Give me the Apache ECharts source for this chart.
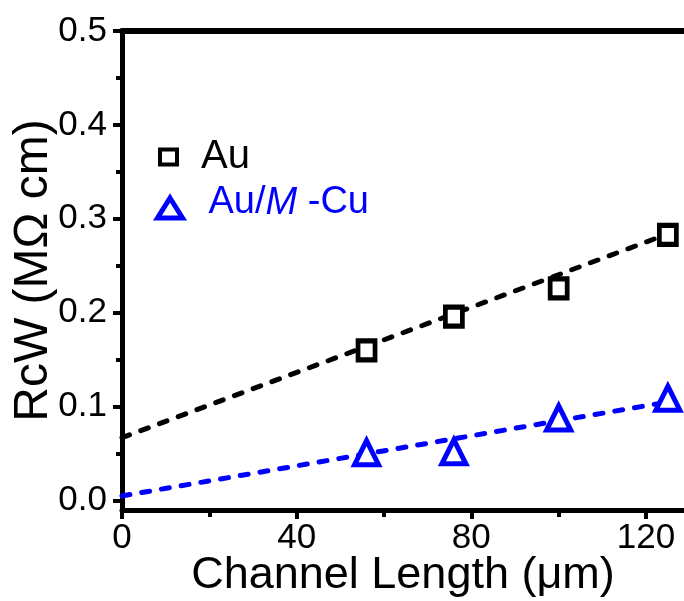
<!DOCTYPE html>
<html>
<head>
<meta charset="utf-8">
<script src="https://cdn.jsdelivr.net/npm/echarts@6/dist/echarts.min.js"></script>
<style>
html, body { margin: 0; padding: 0; background: #fff; }
#chart { width: 684px; height: 601px; }
</style>
</head>
<body>
<div id="chart"></div>
<script>
// channel length (um) and RcW (MOhm cm)
var auPoints = [[56, 0.160], [76, 0.196], [100, 0.226], [125, 0.283]];
var cuPoints = [[56, 0.051], [76, 0.052], [100, 0.088], [125, 0.109]];
// dashed fit lines, end points
var auFit = [[0, 0.067], [125, 0.284]];
var cuFit = [[0, 0.005], [125, 0.105]];

var xMajor = [0, 40, 80, 120];
var xMinor = [20, 60, 100];
var yMajor = [0, 0.1, 0.2, 0.3, 0.4, 0.5];
var yMinor = [0.05, 0.15, 0.25, 0.35, 0.45];

var SANS = '"Liberation Sans", Arial, sans-serif';
var BLUE = '#0000ff';

var myChart = echarts.init(document.getElementById('chart'));

var xRange = { min: 0, max: 128.7 };
var yRange = { min: -0.01, max: 0.5 };

option = {
  animation: false,
  backgroundColor: '#fff',
  grid: { left: 122, right: 0, top: 31, bottom: 91, containLabel: false, outerBoundsMode: 'none' },
  legend: [
    {
      orient: 'vertical', left: 158, top: 112, padding: 0,
      itemWidth: 17, itemHeight: 15,
      data: [{ name: 'Au', icon: 'rect',
        itemStyle: { color: '#fff', borderColor: '#000', borderWidth: 4, opacity: 1 } }],
      textStyle: { fontFamily: SANS, fontSize: 40, color: '#000', lineHeight: 50, padding: [0, 0, 40, 19] }
    },
    {
      orient: 'vertical', left: 155, top: 178, padding: 0,
      itemWidth: 25, itemHeight: 20,
      data: [{ name: 'Au/M -Cu', icon: 'triangle',
        itemStyle: { color: '#fff', borderColor: BLUE, borderWidth: 5, opacity: 1 } }],
      formatter: function () { return '{n|Au/}{i|M}{n| -Cu}'; },
      textStyle: {
        color: BLUE, lineHeight: 50, padding: [0, 0, 10, 21],
        rich: {
          n: { fontFamily: SANS, fontSize: 38, color: BLUE, lineHeight: 50 },
          i: { fontFamily: SANS, fontSize: 38, color: BLUE, fontStyle: 'italic', lineHeight: 50 }
        }
      }
    }
  ],
  xAxis: [
    {
      type: 'value', min: xRange.min, max: xRange.max, position: 'bottom',
      name: 'Channel Length (\u03bcm)', nameLocation: 'middle', nameGap: 43, nameMoveOverlap: false,
      nameTextStyle: { fontFamily: SANS, fontSize: 45, color: '#000' },
      axisLine: { show: true, onZero: false, lineStyle: { color: '#000', width: 5 } },
      axisTick: { show: true, inside: false, length: 9, customValues: xMajor, lineStyle: { color: '#000', width: 4 } },
      axisLabel: { show: true, customValues: xMajor, margin: 11, fontFamily: SANS, fontSize: 35, color: '#000' },
      splitLine: { show: false }
    },
    {
      type: 'value', min: xRange.min, max: xRange.max, position: 'bottom',
      axisLine: { show: false, onZero: false },
      axisTick: { show: true, length: 7, customValues: xMinor, lineStyle: { color: '#000', width: 4 } },
      axisLabel: { show: false },
      splitLine: { show: false }
    },
    {
      type: 'value', min: xRange.min, max: xRange.max, position: 'top',
      axisLine: { show: true, onZero: false, lineStyle: { color: '#000', width: 6 } },
      axisTick: { show: false }, axisLabel: { show: false }, splitLine: { show: false }
    }
  ],
  yAxis: [
    {
      type: 'value', min: yRange.min, max: yRange.max, position: 'left',
      name: 'RcW (M\u03a9 cm)', nameLocation: 'middle', nameGap: 64, nameMoveOverlap: false,
      nameTextStyle: { fontFamily: SANS, fontSize: 48, color: '#000' },
      axisLine: { show: true, onZero: false, lineStyle: { color: '#000', width: 5 } },
      axisTick: { show: true, length: 9, customValues: yMajor, lineStyle: { color: '#000', width: 4 } },
      axisLabel: { show: true, customValues: yMajor, margin: 15, fontFamily: SANS, fontSize: 35, color: '#000',
        formatter: function (v) { return v.toFixed(1); } },
      splitLine: { show: false }
    },
    {
      type: 'value', min: yRange.min, max: yRange.max, position: 'left',
      axisLine: { show: false, onZero: false },
      axisTick: { show: true, length: 6, customValues: yMinor, lineStyle: { color: '#000', width: 4 } },
      axisLabel: { show: false },
      splitLine: { show: false }
    }
  ],
  series: [
    {
      name: 'Au fit', type: 'line', data: auFit, symbol: 'none', z: 1,
      lineStyle: { color: '#000', width: 5, type: [8, 12], cap: 'round' }
    },
    {
      name: 'Au/M -Cu fit', type: 'line', data: cuFit, symbol: 'none', z: 1,
      lineStyle: { color: BLUE, width: 5, type: [8, 12], cap: 'round' }
    },
    {
      name: 'Au', type: 'scatter', data: auPoints, symbol: 'rect', symbolSize: [17, 19], z: 3,
      itemStyle: { color: '#fff', borderColor: '#000', borderWidth: 5, opacity: 1 }
    },
    {
      name: 'Au/M -Cu', type: 'scatter', data: cuPoints, symbol: 'triangle', symbolSize: [24, 24], z: 3,
      itemStyle: { color: '#fff', borderColor: BLUE, borderWidth: 5, opacity: 1 }
    }
  ]
};
myChart.setOption(option);
</script>
</body>
</html>
